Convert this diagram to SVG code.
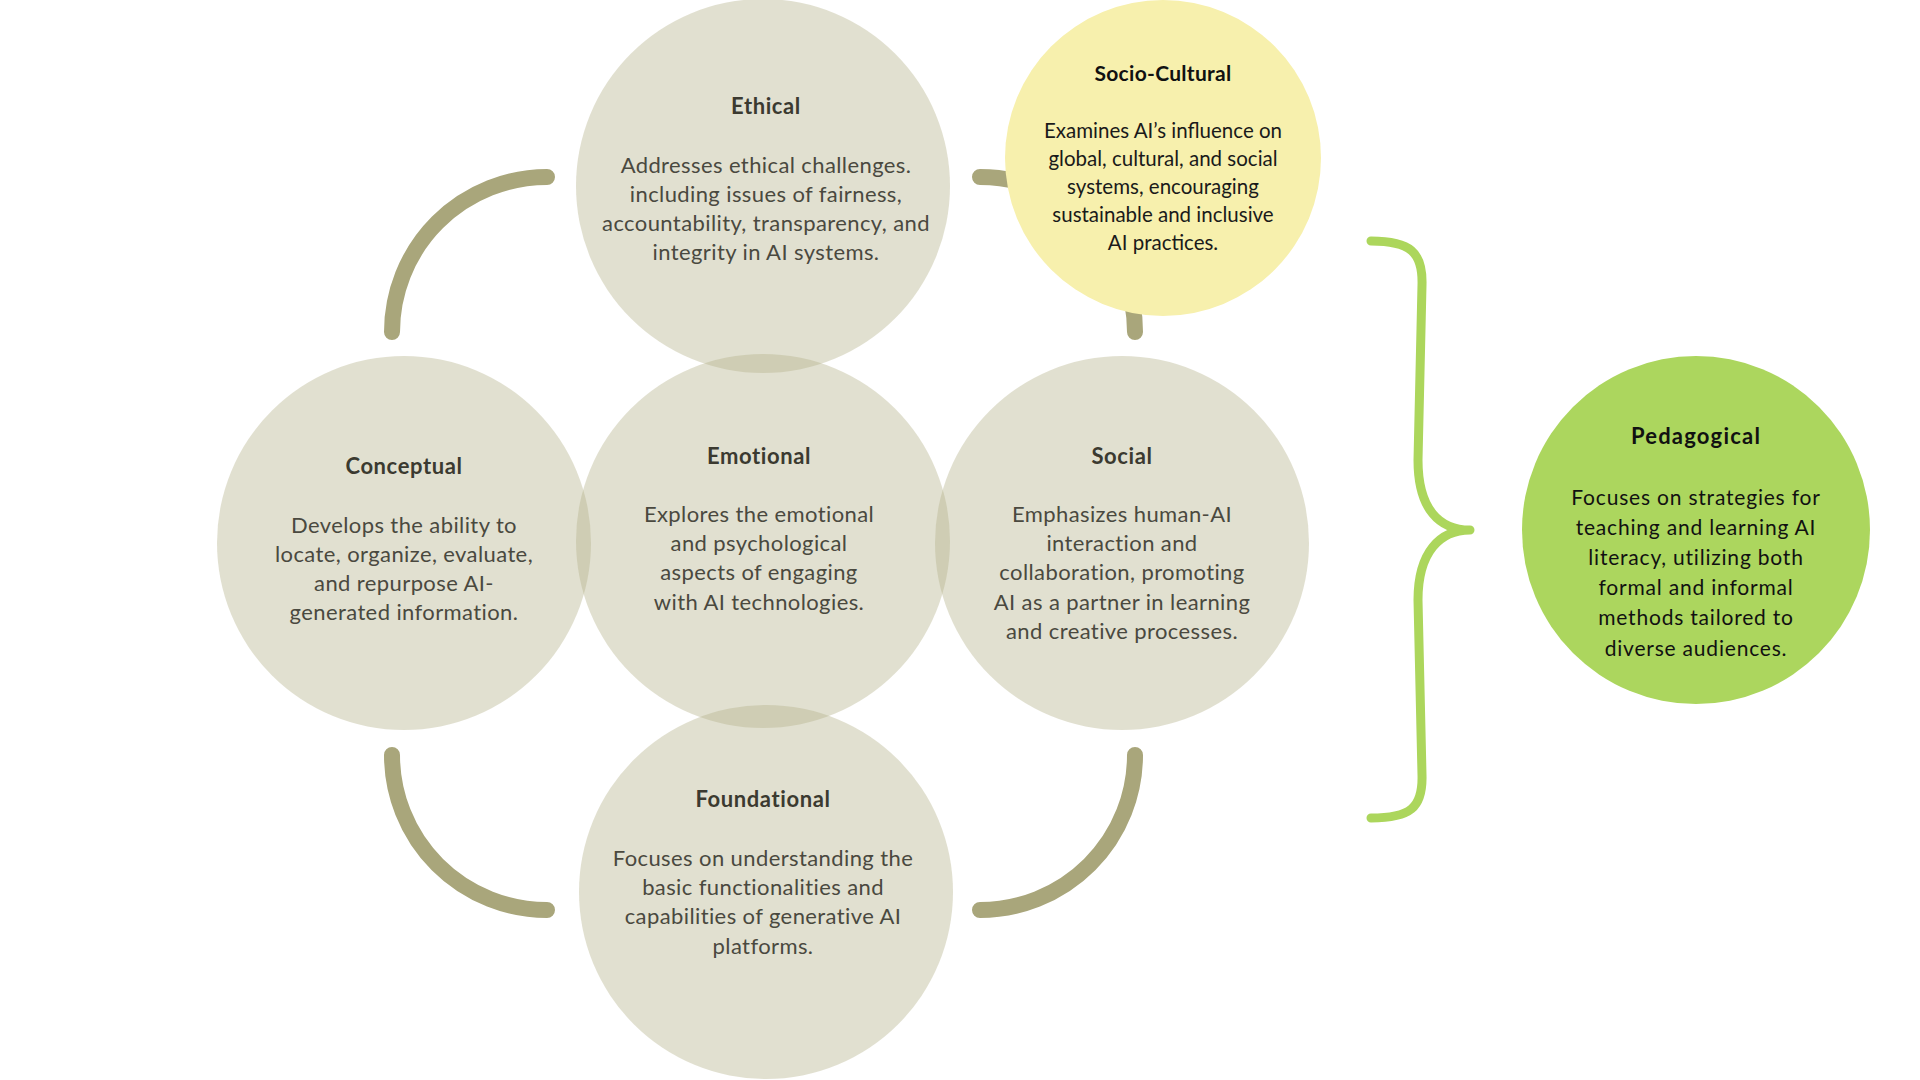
<svg xmlns="http://www.w3.org/2000/svg" width="1920" height="1080" viewBox="0 0 1920 1080">
<style>
.g{fill:#b4b18a;fill-opacity:0.4}
.arc{fill:none;stroke:#a9a67b;stroke-width:16;stroke-linecap:round}
.brace{fill:none;stroke:#acd65c;stroke-width:9;stroke-linecap:round;stroke-linejoin:round}
text{font-family:"Lato","Noto Sans",sans-serif;text-anchor:middle}
.t{font-size:22px;font-weight:700;fill:#3b3a30;letter-spacing:0.6px}
.b{font-size:22px;font-weight:400;fill:#4a493f;letter-spacing:0.4px}
.tk{font-size:21px;font-weight:700;fill:#111;letter-spacing:0.3px}
.tp{font-size:22px;font-weight:700;fill:#111;letter-spacing:1.2px}
.bk{font-size:20.5px;font-weight:400;fill:#1a1a1a}
.pb{font-size:21px;font-weight:400;fill:#111;letter-spacing:0.8px}
</style>
<rect width="1920" height="1080" fill="#ffffff"/>
<g id="connectors">
<path class="arc" d="M547 177 A155 155 0 0 0 392 332"/>
<path class="arc" d="M980 177 A155 155 0 0 1 1135 332"/>
<path class="arc" d="M392 755 A155 155 0 0 0 547 910"/>
<path class="arc" d="M1135 755 A155 155 0 0 1 980 910"/>
<path class="brace" d="M1371 241 C1410 241 1423 252 1422 285 L1418 460 C1418 510 1440 530 1470 530 C1440 530 1418 552 1418 600 L1422 775 C1423 808 1410 818 1371 818"/>
</g>
<g id="ethical">
<circle class="g" cx="763" cy="186" r="187"/>
<text class="t" x="766" y="114">Ethical</text>
<text class="b" x="766" y="173">Addresses ethical challenges.</text>
<text class="b" x="766" y="202">including issues of fairness,</text>
<text class="b" x="766" y="231">accountability, transparency, and</text>
<text class="b" x="766" y="260">integrity in AI systems.</text>
</g>
<g id="emotional">
<circle class="g" cx="763" cy="541" r="187"/>
<text class="t" x="759" y="464">Emotional</text>
<text class="b" x="759" y="522">Explores the emotional</text>
<text class="b" x="759" y="551">and psychological</text>
<text class="b" x="759" y="580">aspects of engaging</text>
<text class="b" x="759" y="610">with AI technologies.</text>
</g>
<g id="conceptual">
<circle class="g" cx="404" cy="543" r="187"/>
<text class="t" x="404" y="474">Conceptual</text>
<text class="b" x="404" y="533">Develops the ability to</text>
<text class="b" x="404" y="562">locate, organize, evaluate,</text>
<text class="b" x="404" y="591">and repurpose AI-</text>
<text class="b" x="404" y="620">generated information.</text>
</g>
<g id="social">
<circle class="g" cx="1122" cy="543" r="187"/>
<text class="t" x="1122" y="464">Social</text>
<text class="b" x="1122" y="522">Emphasizes human-AI</text>
<text class="b" x="1122" y="551">interaction and</text>
<text class="b" x="1122" y="580">collaboration, promoting</text>
<text class="b" x="1122" y="610">AI as a partner in learning</text>
<text class="b" x="1122" y="639">and creative processes.</text>
</g>
<g id="foundational">
<circle class="g" cx="766" cy="892" r="187"/>
<text class="t" x="763" y="807">Foundational</text>
<text class="b" x="763" y="866">Focuses on understanding the</text>
<text class="b" x="763" y="895">basic functionalities and</text>
<text class="b" x="763" y="924">capabilities of generative AI</text>
<text class="b" x="763" y="954">platforms.</text>
</g>
<g id="socio-cultural">
<circle cx="1163" cy="158" r="158" fill="#f7f0ad"/>
<text class="tk" x="1163" y="81">Socio-Cultural</text>
<text class="bk" x="1163" y="138">Examines AI’s influence on</text>
<text class="bk" x="1163" y="166">global, cultural, and social</text>
<text class="bk" x="1163" y="194">systems, encouraging</text>
<text class="bk" x="1163" y="222">sustainable and inclusive</text>
<text class="bk" x="1163" y="250">AI practices.</text>
</g>
<g id="pedagogical">
<circle cx="1696" cy="530" r="174" fill="#acd65e"/>
<text class="tp" x="1696" y="444">Pedagogical</text>
<text class="pb" x="1696" y="505">Focuses on strategies for</text>
<text class="pb" x="1696" y="535">teaching and learning AI</text>
<text class="pb" x="1696" y="565">literacy, utilizing both</text>
<text class="pb" x="1696" y="595">formal and informal</text>
<text class="pb" x="1696" y="625">methods tailored to</text>
<text class="pb" x="1696" y="656">diverse audiences.</text>
</g>
</svg>
